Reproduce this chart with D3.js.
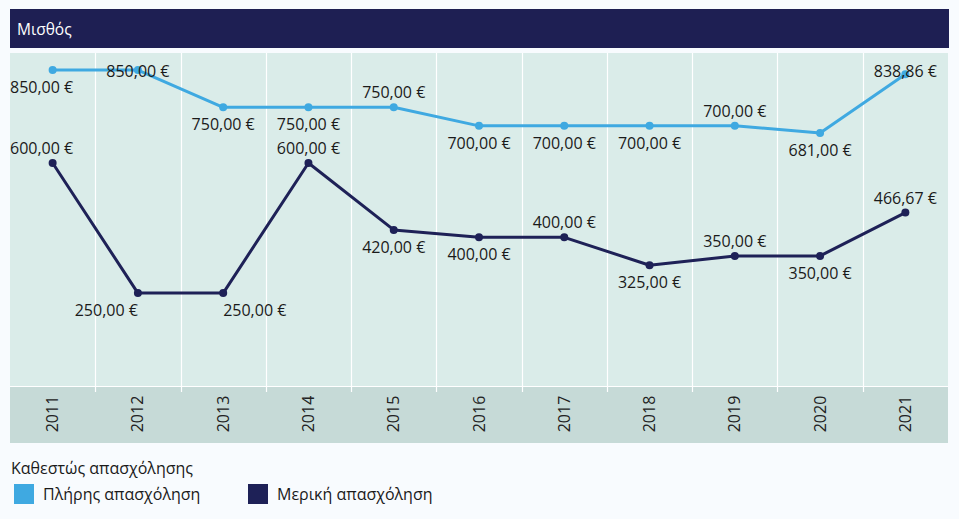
<!DOCTYPE html>
<html>
<head>
<meta charset="utf-8">
<script src="https://cdn.jsdelivr.net/npm/d3@7"></script>
<style>
  body { margin: 0; background: #f8fbfe; }
  svg { display: block; font-family: "Open Sans", "Noto Sans", sans-serif; }
</style>
</head>
<body>
<svg></svg>
<script>
// Dimension constants
const WIDTH = 959;
const HEIGHT = 519;
const PLOT = { left: 10, right: 948, top: 53, bottom: 386 };
const AXIS_BOTTOM = 443;
const FONT = 16;

// data
const years = ['2011', '2012', '2013', '2014', '2015', '2016', '2017', '2018', '2019', '2020', '2021'];
const fullTime = [850, 850, 750, 750, 750, 700, 700, 700, 700, 681, 838.86];
const partTime = [600, 250, 250, 600, 420, 400, 400, 325, 350, 350, 466.67];
const seriesNames = ['Πλήρης απασχόληση', 'Μερική απασχόληση'];
const legendTitle = 'Καθεστώς απασχόλησης';
const chartTitle = 'Μισθός';

// label placement (a = above, b = below, c = on the point) and alignment
const fullPos = ['b', 'c', 'b', 'b', 'a', 'b', 'b', 'b', 'a', 'b', 'a'];
const partPos = ['a', 'b', 'b', 'a', 'b', 'b', 'a', 'b', 'a', 'b', 'a'];
const fullAlign = ['edge', 'middle', 'middle', 'middle', 'middle', 'middle', 'middle', 'middle', 'middle', 'middle', 'middle'];
const partAlign = ['edge', 'end', 'start', 'middle', 'middle', 'middle', 'middle', 'middle', 'middle', 'middle', 'middle'];
const labelOffset = { a: -9, b: 23, c: 4 };

const colors = ['#3fa9e1', '#1e2157'];

const svg = d3.select('svg')
    .attr('width', WIDTH)
    .attr('height', HEIGHT);

const fmt = v => v.toFixed(2).replace('.', ',') + ' €';

// scales
const x = d3.scaleBand()
    .domain(years)
    .range([PLOT.left, PLOT.right]);

const y = d3.scaleLinear()
    .domain([0, 896])
    .range([PLOT.bottom, PLOT.top]);

// title bar
svg.append('rect')
    .attr('x', 10).attr('y', 9)
    .attr('width', 939).attr('height', 39)
    .attr('fill', '#1e1f53');

svg.append('text')
    .attr('x', 17).attr('y', 35)
    .attr('fill', '#ffffff')
    .attr('font-size', 15.5)
    .text(chartTitle);

// plot background
svg.append('rect')
    .attr('x', PLOT.left).attr('y', PLOT.top)
    .attr('width', PLOT.right - PLOT.left)
    .attr('height', PLOT.bottom - PLOT.top)
    .attr('fill', '#daece9');

// axis band
svg.append('rect')
    .attr('x', PLOT.left).attr('y', PLOT.bottom)
    .attr('width', PLOT.right - PLOT.left)
    .attr('height', AXIS_BOTTOM - PLOT.bottom)
    .attr('fill', '#c6dad7');

// gridlines between categories
svg.selectAll('.grid')
    .data(years.slice(1)).enter().append('line')
    .attr('class', 'grid')
    .attr('x1', d => Math.round(x(d)) + 0.5)
    .attr('x2', d => Math.round(x(d)) + 0.5)
    .attr('y1', PLOT.top)
    .attr('y2', PLOT.bottom + 6)
    .attr('stroke', '#ffffff')
    .attr('stroke-width', 1.2);

svg.append('line')
    .attr('x1', PLOT.left).attr('x2', PLOT.right)
    .attr('y1', PLOT.bottom + 0.5).attr('y2', PLOT.bottom + 0.5)
    .attr('stroke', '#ffffff');

// year labels
svg.selectAll('.year')
    .data(years).enter().append('text')
    .attr('class', 'year')
    .attr('transform', d => `translate(${x(d) + x.bandwidth() / 2 + 5.5}, 414) rotate(-90)`)
    .attr('text-anchor', 'middle')
    .attr('font-size', FONT)
    .attr('fill', '#222222')
    .text(d => d);

// lines
const line = d3.line()
    .x((d, i) => x(years[i]) + x.bandwidth() / 2)
    .y(d => y(d));

function drawSeries(values, color, pos, align) {
    const g = svg.append('g');
    g.append('path')
        .datum(values)
        .attr('d', line)
        .attr('fill', 'none')
        .attr('stroke', color)
        .attr('stroke-width', 3)
        .attr('stroke-linejoin', 'round');

    g.selectAll('circle')
        .data(values).enter().append('circle')
        .attr('cx', (d, i) => x(years[i]) + x.bandwidth() / 2)
        .attr('cy', d => y(d))
        .attr('r', 4)
        .attr('fill', color);

    g.selectAll('text')
        .data(values).enter().append('text')
        .attr('font-size', FONT)
        .attr('fill', '#1a1a1a')
        .attr('text-anchor', (d, i) => align[i] === 'edge' ? 'start' : align[i])
        .attr('x', (d, i) => align[i] === 'edge' ? x.range()[0] : x(years[i]) + x.bandwidth() / 2)
        .attr('y', (d, i) => y(d) + labelOffset[pos[i]])
        .text(d => fmt(d))
        .each(function() {
            // keep labels inside the plot area
            const b = this.getBBox();
            const sel = d3.select(this);
            const cx = +sel.attr('x');
            const cy = +sel.attr('y');
            if (b.x < PLOT.left) sel.attr('x', cx + (PLOT.left - b.x));
            if (b.x + b.width > PLOT.right) sel.attr('x', cx - (b.x + b.width - PLOT.right));
            if (b.y < PLOT.top + 7) sel.attr('y', cy + (PLOT.top + 7 - b.y));
        });
}

drawSeries(partTime, colors[1], partPos, partAlign);
drawSeries(fullTime, colors[0], fullPos, fullAlign);

// legend
const legend = svg.append('g')
    .attr('transform', 'translate(11, 468)');

legend.append('text')
    .attr('x', 0).attr('y', 6)
    .attr('font-size', FONT)
    .attr('fill', '#1a1a1a')
    .text(legendTitle);

const legendX = [3, 237];
const items = legend.selectAll('.item')
    .data(seriesNames).enter().append('g')
    .attr('class', 'item')
    .attr('transform', (d, i) => `translate(${legendX[i]}, 16)`);

items.append('rect')
    .attr('width', 20).attr('height', 20)
    .attr('fill', (d, i) => colors[i]);

items.append('text')
    .attr('x', 29).attr('y', 16)
    .attr('font-size', FONT)
    .attr('fill', '#1a1a1a')
    .text(d => d);
</script>
</body>
</html>
